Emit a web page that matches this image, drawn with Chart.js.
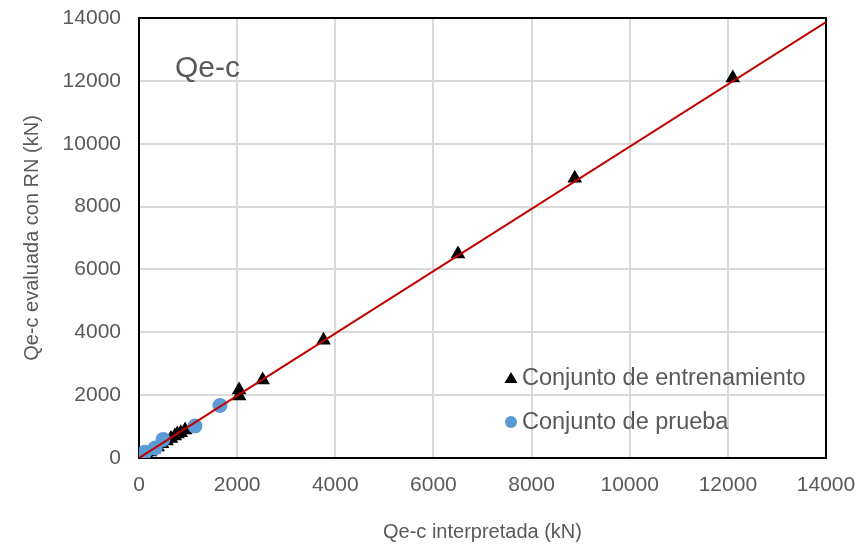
<!DOCTYPE html>
<html>
<head>
<meta charset="utf-8">
<script src="https://cdn.jsdelivr.net/npm/chart.js@4.4.1/dist/chart.umd.min.js"></script>
<style>
html,body{margin:0;padding:0;background:#fff;}
#wrap{width:861px;height:548px;}
</style>
</head>
<body>
<div id="wrap"><canvas id="c" width="861" height="548"></canvas></div>
<script>
const seriesNames = ["Conjunto de entrenamiento", "Conjunto de prueba"];
const chartLabel = "Qe-c";
const xTitle = "Qe-c interpretada (kN)";
const yTitle = "Qe-c evaluada con RN (kN)";
const axisTicks = [0, 2000, 4000, 6000, 8000, 10000, 12000, 14000];

const trainX = [12100, 8880, 6500, 3760, 2520, 2040, 2040, 940, 850, 780, 730, 650, 560, 470, 380, 300, 220, 150, 80, 30];
const trainY = [12090, 8900, 6490, 3750, 2480, 2160, 1970, 890, 800, 760, 700, 620, 540, 450, 350, 280, 190, 120, 50, 15];

const testX = [1650, 1140, 490, 330, 120];
const testY = [1670, 1020, 590, 320, 180];

const fitX = [0, 14000];
const fitY = [0, 13870];

const toPts = (xs, ys) => xs.map((x, i) => ({x: x, y: ys[i]}));

const FONT = "'Liberation Sans', Arial, sans-serif";
const TXT = '#595959';

const frame = {
  id: 'frame',
  beforeDatasetsDraw(chart) {
    const {ctx, chartArea: a} = chart;
    ctx.save();
    ctx.strokeStyle = '#000';
    ctx.lineWidth = 2;
    ctx.strokeRect(a.left, a.top, a.right - a.left, a.bottom - a.top);
    ctx.restore();
  },
  afterDraw(chart) {
    const {ctx, chartArea: a} = chart;
    ctx.save();
    ctx.fillStyle = TXT;
    ctx.font = "30px " + FONT;
    ctx.textBaseline = 'alphabetic';
    ctx.textAlign = 'left';
    ctx.fillText(chartLabel, a.left + 36, a.top + 59);
    // legend
    const lx = a.left + 372, ly1 = a.top + 360, ly2 = a.top + 404;
    ctx.fillStyle = '#000';
    ctx.beginPath();
    ctx.moveTo(lx, ly1 - 6);
    ctx.lineTo(lx + 6.5, ly1 + 5);
    ctx.lineTo(lx - 6.5, ly1 + 5);
    ctx.closePath();
    ctx.fill();
    ctx.fillStyle = '#5b9bd5';
    ctx.beginPath();
    ctx.arc(lx, ly2, 6, 0, Math.PI * 2);
    ctx.fill();
    ctx.fillStyle = TXT;
    ctx.font = "23.5px " + FONT;
    ctx.textBaseline = 'middle';
    ctx.fillText(seriesNames[0], lx + 11, ly1 + 1);
    ctx.fillText(seriesNames[1], lx + 11, ly2 + 1);
    ctx.restore();
  }
};

new Chart(document.getElementById('c'), {
  type: 'scatter',
  data: {
    datasets: [
      {
        type: 'line',
        label: 'ajuste',
        data: toPts(fitX, fitY),
        borderColor: '#c00000',
        borderWidth: 2,
        pointRadius: 0,
        fill: false,
        order: 1
      },
      {
        label: seriesNames[1],
        data: toPts(testX, testY),
        backgroundColor: '#5b9bd5',
        borderColor: '#5b9bd5',
        pointStyle: 'circle',
        pointRadius: 7.5,
        borderWidth: 0,
        order: 2
      },
      {
        label: seriesNames[0],
        data: toPts(trainX, trainY),
        backgroundColor: '#000',
        borderColor: '#000',
        pointStyle: 'triangle',
        pointRadius: 8.5,
        borderWidth: 0,
        order: 3
      }
    ]
  },
  options: {
    responsive: false,
    animation: false,
    layout: {padding: {left: 20, right: 35, top: 18, bottom: 4}},
    plugins: {legend: {display: false}, tooltip: {enabled: false}},
    scales: {
      x: {
        type: 'linear', min: 0, max: 14000,
        afterBuildTicks: s => { s.ticks = axisTicks.map(v => ({value: v})); },
        afterFit: s => { s.height = 86; s.paddingLeft = 0; s.paddingRight = 0; },
        grid: {color: '#d9d9d9', lineWidth: 2, drawTicks: false},
        border: {display: false},
        ticks: {color: TXT, font: {family: FONT, size: 21}, padding: 15, maxRotation: 0, callback: v => String(v)},
        title: {display: true, text: xTitle, color: TXT, font: {family: FONT, size: 20}, padding: {top: 22, bottom: 0}}
      },
      y: {
        type: 'linear', min: 0, max: 14000,
        afterBuildTicks: s => { s.ticks = axisTicks.map(v => ({value: v})); },
        afterFit: s => { s.width = 119; s.paddingTop = 0; s.paddingBottom = 0; },
        grid: {color: '#d9d9d9', lineWidth: 2, drawTicks: false},
        border: {display: false},
        ticks: {color: TXT, font: {family: FONT, size: 21}, padding: 18, callback: v => String(v)},
        title: {display: true, text: yTitle, color: TXT, font: {family: FONT, size: 20}, padding: {top: 0, bottom: 0}}
      }
    }
  },
  plugins: [frame]
});
</script>
</body>
</html>
